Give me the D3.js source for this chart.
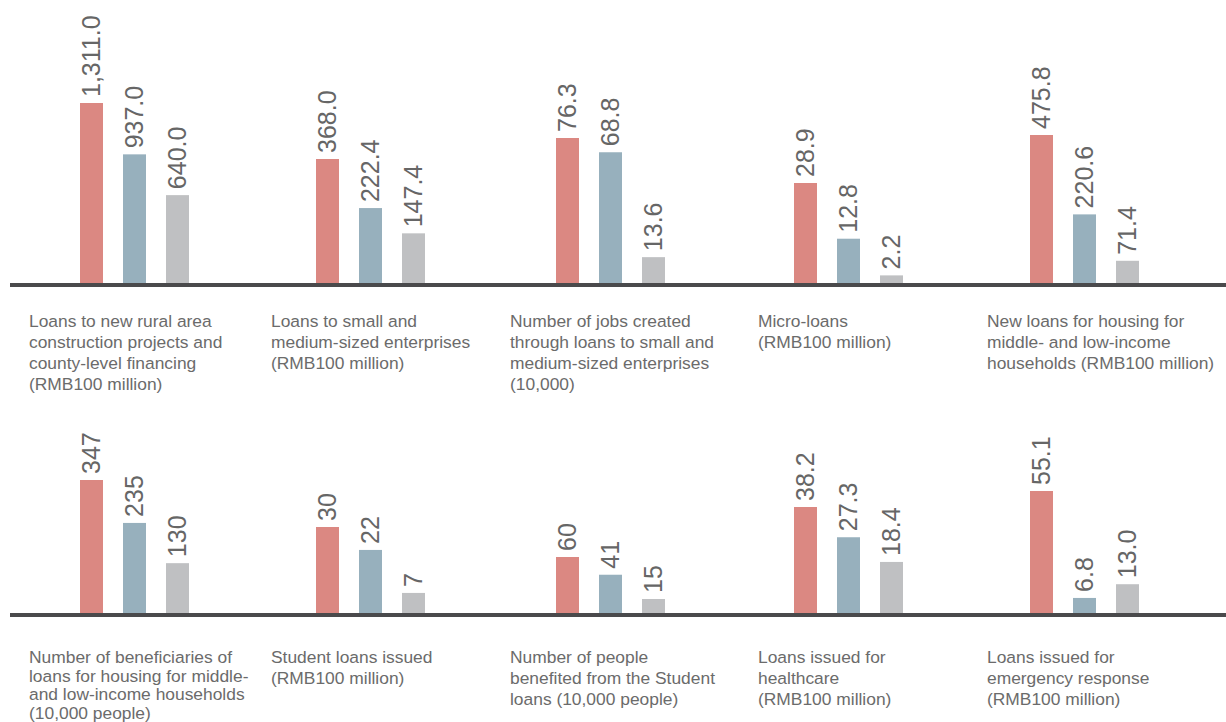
<!DOCTYPE html>
<html>
<head>
<meta charset="utf-8">
<script src="https://cdn.jsdelivr.net/npm/d3@7"></script>
<style>
  body { margin: 0; background: #fff; }
  text { font-family: "Liberation Sans", Arial, sans-serif; }
</style>
</head>
<body>
<script>
var w = 1226;
var h = 722;

// Panel titles, one array of lines per panel (top row first)
var categories = [
  ["Loans to new rural area", "construction projects and", "county-level financing", "(RMB100 million)"],
  ["Loans to small and", "medium-sized enterprises", "(RMB100 million)"],
  ["Number of jobs created", "through loans to small and", "medium-sized enterprises", "(10,000)"],
  ["Micro-loans", "(RMB100 million)"],
  ["New loans for housing for", "middle- and low-income", "households (RMB100 million)"],
  ["Number of beneficiaries of", "loans for housing for middle-", "and low-income households", "(10,000 people)"],
  ["Student loans issued", "(RMB100 million)"],
  ["Number of people", "benefited from the Student", "loans (10,000 people)"],
  ["Loans issued for", "healthcare", "(RMB100 million)"],
  ["Loans issued for", "emergency response", "(RMB100 million)"]
];

// Three series per panel
var seriesA = [1311.0, 368.0, 76.3, 28.9, 475.8, 347, 30, 60, 38.2, 55.1];
var seriesB = [937.0, 222.4, 68.8, 12.8, 220.6, 235, 22, 41, 27.3, 6.8];
var seriesC = [640.0, 147.4, 13.6, 2.2, 71.4, 130, 7, 15, 18.4, 13.0];
var decimals = [1, 1, 1, 1, 1, 0, 0, 0, 1, 1];

var seriesKeys = ["A", "B", "C"];
var colors = d3.scaleOrdinal()
  .domain(seriesKeys)
  .range(["#db8882", "#97b0bd", "#bfc0c2"]);

// Layout
var rowBase = [283, 613];          // top of the baseline rule for each row
var labelGap = [44, 50];           // baseline rule to first title line
var colBars = [80, 316, 556, 794, 1030];
var colText = [29, 271, 510, 758, 987];
var panelH = [180, 124, 145, 100, 148, 133, 86, 56, 106, 122];
var lineStep = [21, 21, 21, 21, 21, 18.5, 21, 21, 21, 21];
var barW = 23;
var barStep = 43;

var svg = d3.select("body")
  .append("svg")
  .attr("width", w)
  .attr("height", h);

categories.forEach(function(title, i) {
  var row = Math.floor(i / 5);
  var col = i % 5;
  var base = rowBase[row];
  var vals = [seriesA[i], seriesB[i], seriesC[i]];
  var fmt = d3.format(",." + decimals[i] + "f");

  var x = d3.scaleBand()
    .domain(seriesKeys)
    .range([colBars[col], colBars[col] + barStep * 2 + barW])
    .paddingInner(1 - barW / barStep)
    .paddingOuter(0);

  var y = d3.scaleLinear()
    .domain([0, d3.max(vals)])
    .range([base, base - panelH[i]]);

  var g = svg.append("g");
  var data = vals.map(function(v, k) { return { key: seriesKeys[k], value: v }; });

  // The bars
  g.selectAll("rect")
    .data(data)
    .enter()
    .append("rect")
    .attr("x", function(d) { return x(d.key); })
    .attr("y", function(d) { return y(d.value); })
    .attr("width", x.bandwidth())
    .attr("height", function(d) { return base + 1 - y(d.value); })
    .attr("fill", function(d) { return colors(d.key); });

  // Rotated value labels above each bar
  g.selectAll("text.value")
    .data(data)
    .enter()
    .append("text")
    .attr("class", "value")
    .attr("transform", function(d) {
      return "translate(" + (x(d.key) + x.bandwidth() / 2 + 8) + "," + (y(d.value) - 6) + ") rotate(-90)";
    })
    .attr("font-size", 25)
    .attr("fill", "#666")
    .text(function(d) { return fmt(d.value); });

  // Panel title
  var t = g.append("text")
    .attr("x", colText[col])
    .attr("y", base + labelGap[row])
    .attr("font-size", 17.4)
    .attr("fill", "#6b6b6b");
  t.selectAll("tspan")
    .data(title)
    .enter()
    .append("tspan")
    .attr("x", colText[col])
    .attr("dy", function(d, k) { return k === 0 ? 0 : lineStep[i]; })
    .text(function(d) { return d; });
});

// Baseline rules
svg.selectAll("rect.rule")
  .data(rowBase)
  .enter()
  .append("rect")
  .attr("class", "rule")
  .attr("x", 10)
  .attr("y", function(d) { return d; })
  .attr("width", w - 10)
  .attr("height", 4)
  .attr("fill", "#4a4a4c");
</script>
</body>
</html>
